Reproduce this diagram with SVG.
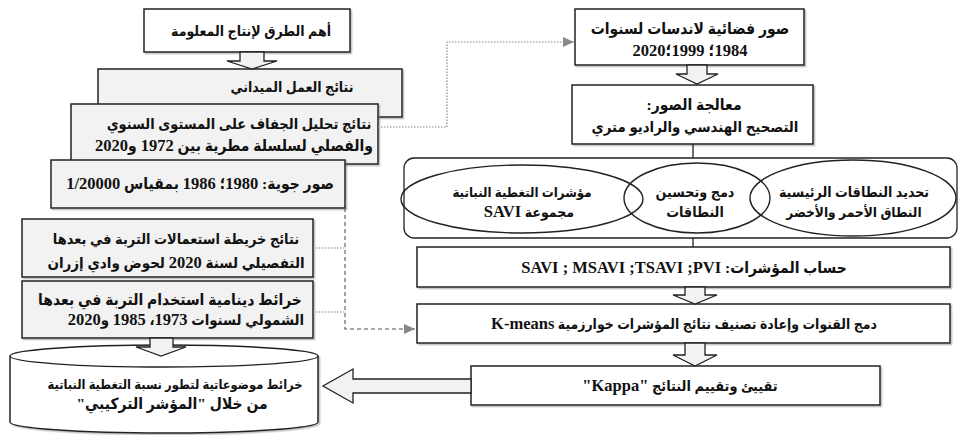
<svg xmlns="http://www.w3.org/2000/svg" width="958" height="435" viewBox="0 0 958 435">
  <style>
    .box{stroke:#222;stroke-width:1.5}
    .w{fill:#fff}
    .g{fill:#f2f2f2}
    .t{font-family:"Liberation Serif","DejaVu Sans Condensed","DejaVu Sans",serif;font-weight:bold;font-size:15.5px;fill:#111;direction:rtl;text-anchor:middle}
    .n{font-size:16.5px}
    .blk{fill:#f2f2f2;stroke:#222;stroke-width:1.3;stroke-linejoin:miter}
    .dot{fill:none;stroke:#888;stroke-width:1.2;stroke-dasharray:1.5 1.5}
    .dash{fill:none;stroke:#555;stroke-width:1.1;stroke-dasharray:4 3}
    .ln{fill:none;stroke:#222;stroke-width:1.3}
    .ell{fill:none;stroke:#222;stroke-width:1.4}
  </style>
  <defs>
    <filter id="sh" x="-5%" y="-5%" width="115%" height="125%">
      <feDropShadow dx="1.5" dy="1.5" stdDeviation="0.7" flood-color="#777" flood-opacity="0.45"/>
    </filter>
    <marker id="tri" markerWidth="12" markerHeight="10" refX="11" refY="5" orient="auto" markerUnits="userSpaceOnUse">
      <path d="M0,0 L11,5 L0,10 Z" fill="#888"/>
    </marker>
  </defs>

  <!-- left column -->
  <g id="methods">
    <rect class="box w" x="144" y="9" width="206" height="43" filter="url(#sh)"/>
    <text class="t" x="251" y="36" style="font-size:14px">أهم الطرق لإنتاج المعلومة</text>
  </g>
  <g id="fieldwork">
    <rect class="box g" x="98" y="69" width="304" height="48" filter="url(#sh)"/>
    <text class="t" x="292" y="92" style="font-size:14px">نتائج العمل الميداني</text>
  </g>
  <g id="drought">
    <rect class="box g" x="71" y="104" width="307" height="60" filter="url(#sh)"/>
    <text class="t" x="239" y="129" style="font-size:14.5px">نتائج تحليل الجفاف على المستوى السنوي</text>
    <text class="t" x="234" y="151">والفصلي لسلسلة مطرية بين <tspan class="n">1972</tspan> و<tspan class="n">2020</tspan></text>
  </g>
  <g id="aerial">
    <rect class="box g" x="51" y="160" width="294" height="48" filter="url(#sh)"/>
    <text class="t" x="200" y="189">صور جوية: <tspan class="n">1980</tspan>؛ <tspan class="n">1986</tspan> بمقياس <tspan class="n">1/20000</tspan></text>
  </g>
  <g id="landuse2020">
    <rect class="box g" x="22" y="219" width="291" height="58" filter="url(#sh)"/>
    <text class="t" x="176" y="244" style="font-size:14.4px">نتائج خريطة استعمالات التربة في بعدها</text>
    <text class="t" x="176" y="268" style="font-size:15px">التفصيلي لسنة <tspan class="n">2020</tspan> لحوض وادي إزران</text>
  </g>
  <g id="landuse-dynamics">
    <rect class="box g" x="22" y="281" width="291" height="57" filter="url(#sh)"/>
    <text class="t" x="170" y="305">خرائط دينامية استخدام التربة في بعدها</text>
    <text class="t" x="186" y="325" style="font-size:14.8px">الشمولي لسنوات <tspan class="n">1973</tspan>، <tspan class="n">1985</tspan> و<tspan class="n">2020</tspan></text>
  </g>
  <g id="thematic-maps">
    <path class="box w" d="M10,356 A154,11 0 0 1 318,356 V422 A154,11 0 0 1 10,422 Z" filter="url(#sh)"/>
    <path class="ln" d="M10,356 A154,11 0 0 0 318,356"/>
    <text class="t" x="175" y="389" style="font-size:12.8px">خرائط موضوعاتية لتطور نسبة التغطية النباتية</text>
    <text class="t" x="172" y="409">من خلال "المؤشر التركيبي"</text>
  </g>

  <!-- right column -->
  <g id="landsat">
    <rect class="box w" x="575" y="9" width="229" height="56" filter="url(#sh)"/>
    <text class="t" x="690" y="34">صور فضائية لاندسات لسنوات</text>
    <text class="t n" x="690" y="56">1984؛ 1999؛2020</text>
  </g>
  <g id="processing">
    <rect class="box w" x="572" y="85" width="241" height="59" filter="url(#sh)"/>
    <text class="t" x="694" y="110">معالجة الصور:</text>
    <text class="t" x="695" y="132" style="font-size:14.8px">التصحيح الهندسي والراديو متري</text>
  </g>
  <g id="bands">
    <rect class="ln" x="404" y="158" width="553" height="80" rx="10" fill="#fff"/>
    <ellipse class="ell" cx="522" cy="199" rx="121" ry="34"/>
    <ellipse class="ell" cx="697" cy="198" rx="73" ry="35"/>
    <ellipse class="ell" cx="853" cy="198" rx="103" ry="38"/>
    <text class="t" x="522" y="197" style="font-size:13.2px">مؤشرات التغطية النباتية</text>
    <text class="t" x="529" y="217" style="font-size:14px">مجموعة  <tspan class="n">SAVI</tspan></text>
    <text class="t" x="695" y="197" style="font-size:14.2px">دمج وتحسين</text>
    <text class="t" x="695" y="217" style="font-size:14.2px">النطاقات</text>
    <text class="t" x="854" y="197" style="font-size:14.1px">تحديد النطاقات الرئيسية</text>
    <text class="t" x="854" y="217" style="font-size:13.6px">النطاق الأحمر والأخضر</text>
  </g>
  <g id="indices">
    <rect class="box w" x="417" y="247" width="533" height="40" filter="url(#sh)"/>
    <text class="t" x="684" y="273">حساب المؤشرات: <tspan class="n">SAVI ; MSAVI ;TSAVI ;PVI</tspan></text>
  </g>
  <g id="kmeans">
    <rect class="box w" x="417" y="304" width="533" height="39" filter="url(#sh)"/>
    <text class="t" x="684" y="329" style="font-size:13.9px">دمج القنوات وإعادة تصنيف نتائج المؤشرات خوارزمية <tspan class="n">K-means</tspan></text>
  </g>
  <g id="kappa">
    <rect class="box w" x="471" y="366" width="409" height="39" filter="url(#sh)"/>
    <text class="t" x="680" y="391" style="font-size:14.4px">تقييئ وتقييم النتائج <tspan class="n">"Kappa"</tspan></text>
  </g>

  <!-- connectors -->
  <g id="connectors">
    <path class="blk" d="M240,52 H264 V61 H277 L252,69 L227,61 H240 Z"/>
    <path class="blk" d="M150,338 H173 V347 H186 L161,356 L136,347 H150 Z"/>
    <path class="blk" d="M687,65 H707 V74 H718 L697,84 L676,74 H687 Z"/>
    <path class="blk" d="M685,287 H705 V295 H717 L695,304 L673,295 H685 Z"/>
    <path class="blk" d="M685,343 H705 V355 H717 L695,366 L673,355 H685 Z"/>
    <path class="blk" d="M471,379 H353 V369 L323,386 L353,403 V393 H471 Z"/>
    <path class="ln" d="M693,144 V158 M693,238 V247"/>
    <path class="dot" d="M378,127 H447 V42 H574" marker-end="url(#tri)"/>
    <path class="dot" d="M313,248 H345 M313,312 H345"/>
    <path class="dash" d="M345,208 V329 H415" marker-end="url(#tri)"/>
  </g>
</svg>
